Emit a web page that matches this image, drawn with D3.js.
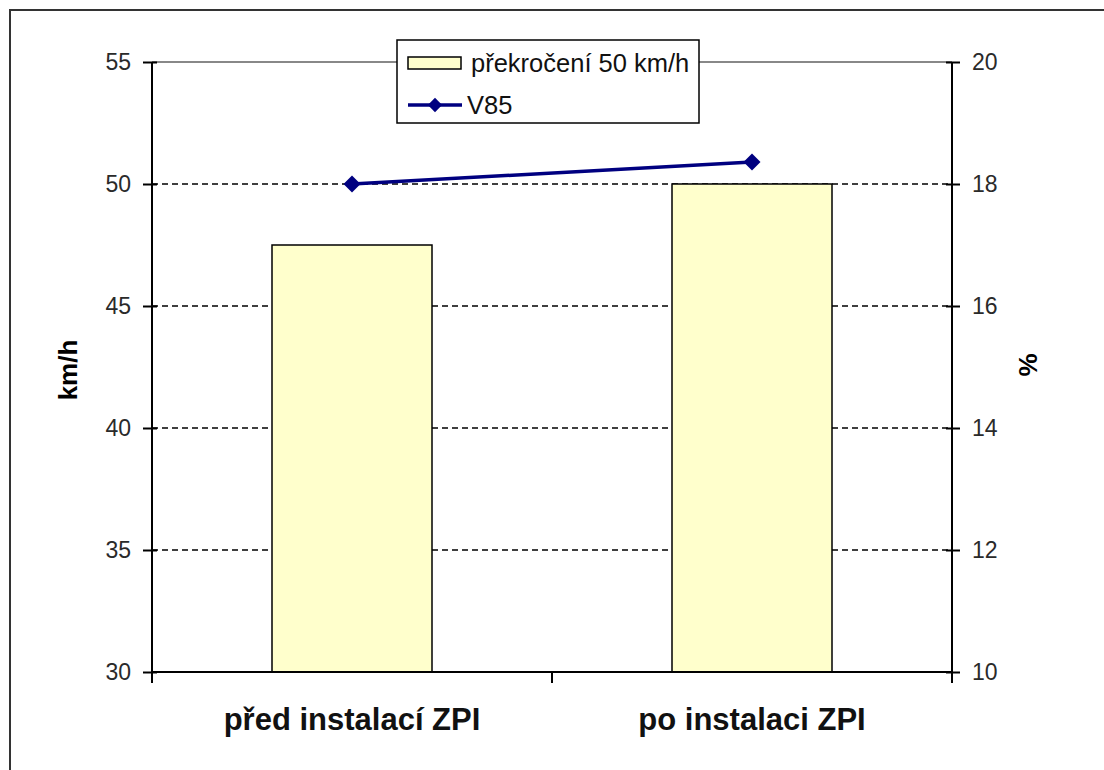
<!DOCTYPE html>
<html>
<head>
<meta charset="utf-8">
<script src="https://cdn.jsdelivr.net/npm/d3@7"></script>
<style>
  body { margin: 0; background: #fff; }
  svg { display: block; font-family: "Liberation Sans", Arial, sans-serif; }
</style>
</head>
<body>
<div id="chart"></div>
<script>
// data
var categories = ["před instalací ZPI", "po instalaci ZPI"];
var exceedPct = [17.0, 18.0];     // překročení 50 km/h, right axis (%)
var v85 = [50.0, 50.9];           // V85, left axis (km/h)
var leftTicks = [30, 35, 40, 45, 50, 55];
var rightTicks = [10, 12, 14, 16, 18, 20];
var seriesNames = ["překročení 50 km/h", "V85"];

var width = 1104, height = 770;
var plot = { left: 152, right: 952, top: 62, bottom: 672 };

var svg = d3.select("#chart").append("svg")
    .attr("width", width)
    .attr("height", height);

svg.append("rect")
    .attr("x", 0).attr("y", 0)
    .attr("width", width).attr("height", height)
    .attr("fill", "#fff");

// outer chart border (runs off the right/bottom edge)
svg.append("rect")
    .attr("x", 10).attr("y", 10)
    .attr("width", 1110).attr("height", 780)
    .attr("fill", "none")
    .attr("stroke", "#333")
    .attr("stroke-width", 2);

/* Scales */
var xCat = d3.scaleBand().domain(categories).range([plot.left, plot.right]).padding(0);
var xBar = d3.scaleBand().domain(categories).range([plot.left, plot.right])
    .paddingInner(0.6).paddingOuter(0.3);
var yL = d3.scaleLinear().domain([30, 55]).range([plot.bottom, plot.top]);
var yR = d3.scaleLinear().domain([10, 20]).range([plot.bottom, plot.top]);

/* gridlines */
svg.append("g")
    .selectAll("line")
    .data(leftTicks.slice(1, -1)).enter()
    .append("line")
    .attr("x1", plot.left).attr("x2", plot.right)
    .attr("y1", d => yL(d)).attr("y2", d => yL(d))
    .attr("stroke", "#000")
    .attr("stroke-width", 1.5)
    .attr("stroke-dasharray", "6,4");

svg.append("line")
    .attr("x1", plot.left).attr("x2", plot.right)
    .attr("y1", yL(55)).attr("y2", yL(55))
    .attr("stroke", "#888")
    .attr("stroke-width", 2);

/* bars */
svg.append("g")
    .selectAll("rect")
    .data(exceedPct).enter()
    .append("rect")
    .attr("x", (d, i) => xBar(categories[i]))
    .attr("y", d => yR(d))
    .attr("width", xBar.bandwidth())
    .attr("height", d => yR(10) - yR(d))
    .attr("fill", "#FFFFCC")
    .attr("stroke", "#000")
    .attr("stroke-width", 1.5);

/* axes */
var leftAxis = svg.append("g")
    .attr("transform", `translate(${plot.left},0)`)
    .call(d3.axisLeft(yL).tickValues(leftTicks).tickSize(9).tickPadding(12).tickSizeOuter(0));
leftAxis.selectAll(".tick line").attr("x1", 5);

var rightAxis = svg.append("g")
    .attr("transform", `translate(${plot.right},0)`)
    .call(d3.axisRight(yR).tickValues(rightTicks).tickSize(8).tickPadding(12).tickSizeOuter(0));
rightAxis.selectAll(".tick line").attr("x1", -6);

[leftAxis, rightAxis].forEach(a => {
    a.select(".domain").attr("stroke", "#000").attr("stroke-width", 2)
        .attr("d", `M0,${plot.top}V${plot.bottom + 11}`);
    a.selectAll(".tick line").attr("stroke", "#000").attr("stroke-width", 2);
    a.selectAll("text")
        .style("font-size", "23px")
        .style("font-family", "Liberation Sans, Arial, sans-serif")
        .attr("fill", "#2a2a2a");
});

// category axis
var catAxis = svg.append("g");
catAxis.append("line")
    .attr("x1", plot.left).attr("x2", plot.right)
    .attr("y1", plot.bottom).attr("y2", plot.bottom)
    .attr("stroke", "#000").attr("stroke-width", 2);
catAxis.selectAll(".ctick")
    .data(categories.slice(1)).enter()
    .append("line")
    .attr("x1", d => xCat(d)).attr("x2", d => xCat(d))
    .attr("y1", plot.bottom).attr("y2", plot.bottom + 11)
    .attr("stroke", "#000").attr("stroke-width", 2);
catAxis.selectAll("text")
    .data(categories).enter()
    .append("text")
    .attr("x", d => xCat(d) + xCat.bandwidth() / 2)
    .attr("y", 730)
    .attr("text-anchor", "middle")
    .style("font-size", "31px")
    .style("font-weight", "bold")
    .attr("fill", "#111")
    .text(d => d);

/* axis titles */
svg.append("text")
    .attr("transform", "translate(77,370) rotate(-90)")
    .attr("text-anchor", "middle")
    .style("font-size", "26px")
    .style("font-weight", "bold")
    .text("km/h");
svg.append("text")
    .attr("transform", "translate(1037,365) rotate(-90)")
    .attr("text-anchor", "middle")
    .style("font-size", "26px")
    .style("font-weight", "bold")
    .text("%");

/* V85 line */
var line = d3.line()
    .x((d, i) => xCat(categories[i]) + xCat.bandwidth() / 2)
    .y(d => yL(d));

svg.append("path")
    .attr("d", line(v85))
    .attr("fill", "none")
    .attr("stroke", "#000080")
    .attr("stroke-width", 3.5);

var diamond = d3.symbol().type(d3.symbolDiamond2).size(185);
svg.append("g")
    .selectAll("path")
    .data(v85).enter()
    .append("path")
    .attr("d", diamond)
    .attr("transform", (d, i) => `translate(${xCat(categories[i]) + xCat.bandwidth() / 2},${yL(d)})`)
    .attr("fill", "#000080");

/* legend */
var legend = svg.append("g").attr("transform", "translate(397,40)");
legend.append("rect")
    .attr("width", 302).attr("height", 83)
    .attr("fill", "#fff")
    .attr("stroke", "#000")
    .attr("stroke-width", 1.5);
legend.append("rect")
    .attr("x", 11).attr("y", 17)
    .attr("width", 53).attr("height", 12)
    .attr("fill", "#FFFFCC")
    .attr("stroke", "#000")
    .attr("stroke-width", 1.5);
legend.append("line")
    .attr("x1", 11).attr("x2", 65)
    .attr("y1", 65).attr("y2", 65)
    .attr("stroke", "#000080").attr("stroke-width", 3.5);
legend.append("path")
    .attr("d", d3.symbol().type(d3.symbolDiamond2).size(130))
    .attr("transform", "translate(38,65)")
    .attr("fill", "#000080");
legend.selectAll(".ltext")
    .data(seriesNames).enter()
    .append("text")
    .attr("x", (d, i) => i === 0 ? 74 : 70)
    .attr("y", (d, i) => i === 0 ? 23 : 65)
    .attr("dy", "0.35em")
    .style("font-size", "25.5px")
    .attr("fill", "#111")
    .text(d => d);
</script>
</body>
</html>
